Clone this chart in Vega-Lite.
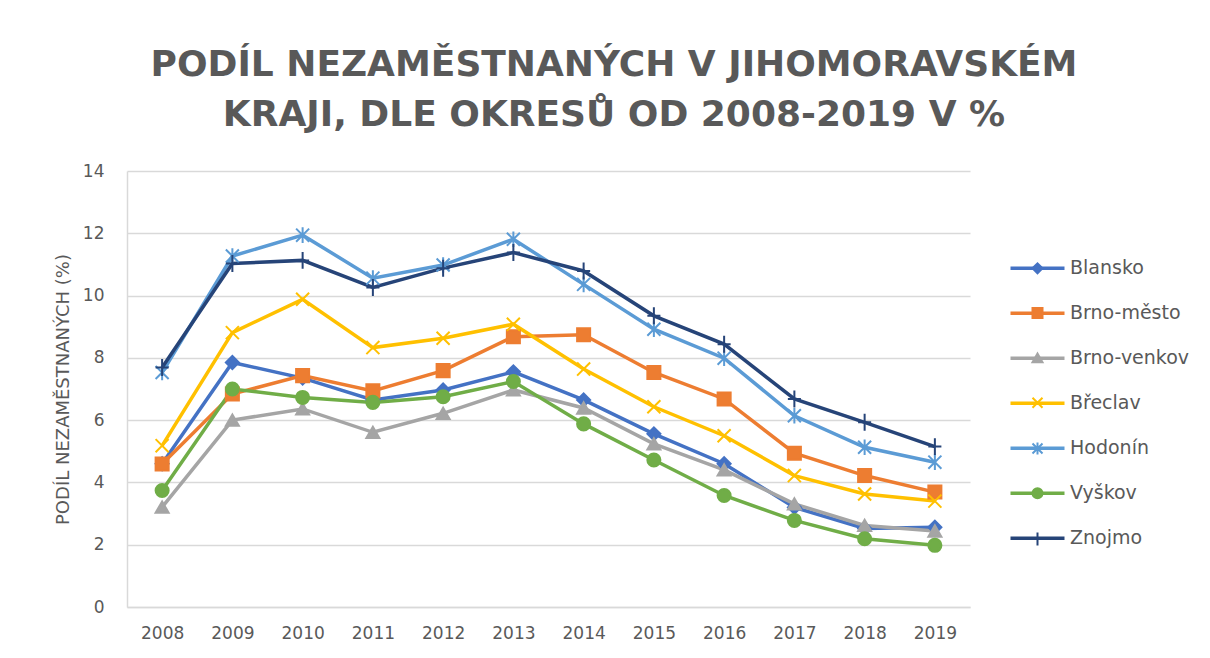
{
  "$schema": "https://vega.github.io/schema/vega-lite/v6.json",
  "width": 843,
  "height": 436,
  "autosize": {"type": "none"},
  "padding": {"left": 127, "top": 171, "right": 240, "bottom": 51},
  "background": "white",
  "title": {
    "text": ["PODÍL NEZAMĚSTNANÝCH V JIHOMORAVSKÉM", "KRAJI, DLE OKRESŮ OD 2008-2019 V %"],
    "font": "DejaVu Sans",
    "fontSize": 36,
    "fontWeight": "bold",
    "color": "#595959",
    "lineHeight": 50,
    "anchor": "middle",
    "frame": "group",
    "dx": 65.5,
    "offset": 28
  },
  "data": {
    "values": [
      {"year": "2008", "district": "Blansko", "value": 4.6},
      {"year": "2009", "district": "Blansko", "value": 7.85},
      {"year": "2010", "district": "Blansko", "value": 7.35},
      {"year": "2011", "district": "Blansko", "value": 6.65},
      {"year": "2012", "district": "Blansko", "value": 6.97},
      {"year": "2013", "district": "Blansko", "value": 7.55},
      {"year": "2014", "district": "Blansko", "value": 6.65},
      {"year": "2015", "district": "Blansko", "value": 5.56},
      {"year": "2016", "district": "Blansko", "value": 4.6},
      {"year": "2017", "district": "Blansko", "value": 3.2},
      {"year": "2018", "district": "Blansko", "value": 2.52},
      {"year": "2019", "district": "Blansko", "value": 2.56},
      {"year": "2008", "district": "Brno-město", "value": 4.59},
      {"year": "2009", "district": "Brno-město", "value": 6.84},
      {"year": "2010", "district": "Brno-město", "value": 7.43},
      {"year": "2011", "district": "Brno-město", "value": 6.94},
      {"year": "2012", "district": "Brno-město", "value": 7.59},
      {"year": "2013", "district": "Brno-město", "value": 8.68},
      {"year": "2014", "district": "Brno-město", "value": 8.74},
      {"year": "2015", "district": "Brno-město", "value": 7.53},
      {"year": "2016", "district": "Brno-město", "value": 6.68},
      {"year": "2017", "district": "Brno-město", "value": 4.94},
      {"year": "2018", "district": "Brno-město", "value": 4.22},
      {"year": "2019", "district": "Brno-město", "value": 3.69},
      {"year": "2008", "district": "Brno-venkov", "value": 3.21},
      {"year": "2009", "district": "Brno-venkov", "value": 6.0},
      {"year": "2010", "district": "Brno-venkov", "value": 6.36},
      {"year": "2011", "district": "Brno-venkov", "value": 5.61},
      {"year": "2012", "district": "Brno-venkov", "value": 6.22},
      {"year": "2013", "district": "Brno-venkov", "value": 6.97},
      {"year": "2014", "district": "Brno-venkov", "value": 6.39},
      {"year": "2015", "district": "Brno-venkov", "value": 5.24},
      {"year": "2016", "district": "Brno-venkov", "value": 4.4},
      {"year": "2017", "district": "Brno-venkov", "value": 3.31},
      {"year": "2018", "district": "Brno-venkov", "value": 2.62},
      {"year": "2019", "district": "Brno-venkov", "value": 2.44},
      {"year": "2008", "district": "Břeclav", "value": 5.18},
      {"year": "2009", "district": "Břeclav", "value": 8.81},
      {"year": "2010", "district": "Břeclav", "value": 9.88},
      {"year": "2011", "district": "Břeclav", "value": 8.33},
      {"year": "2012", "district": "Břeclav", "value": 8.63},
      {"year": "2013", "district": "Břeclav", "value": 9.08},
      {"year": "2014", "district": "Břeclav", "value": 7.64},
      {"year": "2015", "district": "Břeclav", "value": 6.43},
      {"year": "2016", "district": "Břeclav", "value": 5.5},
      {"year": "2017", "district": "Břeclav", "value": 4.22},
      {"year": "2018", "district": "Břeclav", "value": 3.63},
      {"year": "2019", "district": "Břeclav", "value": 3.4},
      {"year": "2008", "district": "Hodonín", "value": 7.53},
      {"year": "2009", "district": "Hodonín", "value": 11.27},
      {"year": "2010", "district": "Hodonín", "value": 11.94},
      {"year": "2011", "district": "Hodonín", "value": 10.56},
      {"year": "2012", "district": "Hodonín", "value": 10.98},
      {"year": "2013", "district": "Hodonín", "value": 11.81},
      {"year": "2014", "district": "Hodonín", "value": 10.36},
      {"year": "2015", "district": "Hodonín", "value": 8.92},
      {"year": "2016", "district": "Hodonín", "value": 7.99},
      {"year": "2017", "district": "Hodonín", "value": 6.14},
      {"year": "2018", "district": "Hodonín", "value": 5.13},
      {"year": "2019", "district": "Hodonín", "value": 4.65},
      {"year": "2008", "district": "Vyškov", "value": 3.74},
      {"year": "2009", "district": "Vyškov", "value": 7.0},
      {"year": "2010", "district": "Vyškov", "value": 6.73},
      {"year": "2011", "district": "Vyškov", "value": 6.57},
      {"year": "2012", "district": "Vyškov", "value": 6.75},
      {"year": "2013", "district": "Vyškov", "value": 7.24},
      {"year": "2014", "district": "Vyškov", "value": 5.88},
      {"year": "2015", "district": "Vyškov", "value": 4.72},
      {"year": "2016", "district": "Vyškov", "value": 3.58},
      {"year": "2017", "district": "Vyškov", "value": 2.78},
      {"year": "2018", "district": "Vyškov", "value": 2.19},
      {"year": "2019", "district": "Vyškov", "value": 1.98},
      {"year": "2008", "district": "Znojmo", "value": 7.69},
      {"year": "2009", "district": "Znojmo", "value": 11.03},
      {"year": "2010", "district": "Znojmo", "value": 11.13},
      {"year": "2011", "district": "Znojmo", "value": 10.26},
      {"year": "2012", "district": "Znojmo", "value": 10.88},
      {"year": "2013", "district": "Znojmo", "value": 11.38},
      {"year": "2014", "district": "Znojmo", "value": 10.79},
      {"year": "2015", "district": "Znojmo", "value": 9.35},
      {"year": "2016", "district": "Znojmo", "value": 8.44},
      {"year": "2017", "district": "Znojmo", "value": 6.68},
      {"year": "2018", "district": "Znojmo", "value": 5.93},
      {"year": "2019", "district": "Znojmo", "value": 5.15}
    ]
  },
  "encoding": {
    "x": {
      "field": "year",
      "type": "ordinal",
      "scale": {"type": "point", "padding": 0.5},
      "axis": {
        "title": null,
        "labelAngle": 0,
        "labelFont": "DejaVu Sans",
        "labelFontSize": 17,
        "labelColor": "#595959",
        "labelPadding": 18,
        "ticks": false,
        "grid": false,
        "domainColor": "#D9D9D9",
        "domainWidth": 1.5
      }
    },
    "y": {
      "field": "value",
      "type": "quantitative",
      "scale": {"domain": [0, 14], "nice": false},
      "axis": {
        "title": "PODÍL NEZAMĚSTNANÝCH (%)",
        "titleFont": "DejaVu Sans",
        "titleFontSize": 18,
        "titleFontWeight": "normal",
        "titleColor": "#595959",
        "titlePadding": 10,
        "values": [0, 2, 4, 6, 8, 10, 12, 14],
        "labelFont": "DejaVu Sans",
        "labelFontSize": 17,
        "labelColor": "#595959",
        "labelPadding": 23,
        "ticks": false,
        "grid": true,
        "gridColor": "#D9D9D9",
        "gridWidth": 1.5,
        "domainColor": "#D9D9D9",
        "domainWidth": 1.5
      }
    },
    "color": {
      "field": "district",
      "type": "nominal",
      "scale": {
        "domain": ["Blansko", "Brno-město", "Brno-venkov", "Břeclav", "Hodonín", "Vyškov", "Znojmo"],
        "range": ["#4472C4", "#ED7D31", "#A5A5A5", "#FFC000", "#5B9BD5", "#70AD47", "#264478"]
      },
      "legend": {
        "title": null,
        "orient": "none",
        "legendX": 881.5,
        "legendY": 68.3,
        "padding": 0,
        "symbolType": "stroke",
        "symbolSize": 2916,
        "symbolStrokeWidth": 3.5,
        "labelOffset": 3.5,
        "rowPadding": 6.0,
        "labelFont": "DejaVu Sans",
        "labelFontSize": 19,
        "labelColor": "#595959"
      }
    }
  },
  "layer": [
    {
      "mark": {"type": "line", "strokeWidth": 3.5}
    },
    {
      "mark": {"type": "point", "filled": false, "strokeWidth": 2, "size": 170, "opacity": 1},
      "encoding": {
        "fill": {
          "field": "district",
          "type": "nominal",
          "scale": {
            "domain": ["Blansko", "Brno-město", "Brno-venkov", "Břeclav", "Hodonín", "Vyškov", "Znojmo"],
            "range": ["#4472C4", "#ED7D31", "#A5A5A5", "#FFC000", "#5B9BD5", "#70AD47", "#264478"]
          },
          "legend": null
        },
        "shape": {
          "field": "district",
          "type": "nominal",
          "scale": {
            "range": ["diamond", "square", "triangle-up", "M-1,-1L1,1M-1,1L1,-1", "M-1,-1L1,1M-1,1L1,-1M0,-1.2L0,1.2", "circle", "M-1,0L1,0M0,-1.3L0,1.3"]
          },
          "legend": {
            "title": null,
            "orient": "none",
            "legendX": 881.5,
            "legendY": 87.8,
            "padding": 0,
            "symbolSize": 100,
            "symbolStrokeWidth": 2,
            "symbolOffset": 19.5,
            "symbolOpacity": 1,
            "symbolFillColor": {"expr": "scale('fill', datum.value)"},
            "symbolStrokeColor": {"expr": "scale('color', datum.value)"},
            "rowPadding": 24.8,
            "labelFont": "DejaVu Sans",
            "labelFontSize": 19,
            "labelExpr": "' '"
          }
        }
      }
    }
  ],
  "config": {
    "view": {"stroke": null}
  }
}
